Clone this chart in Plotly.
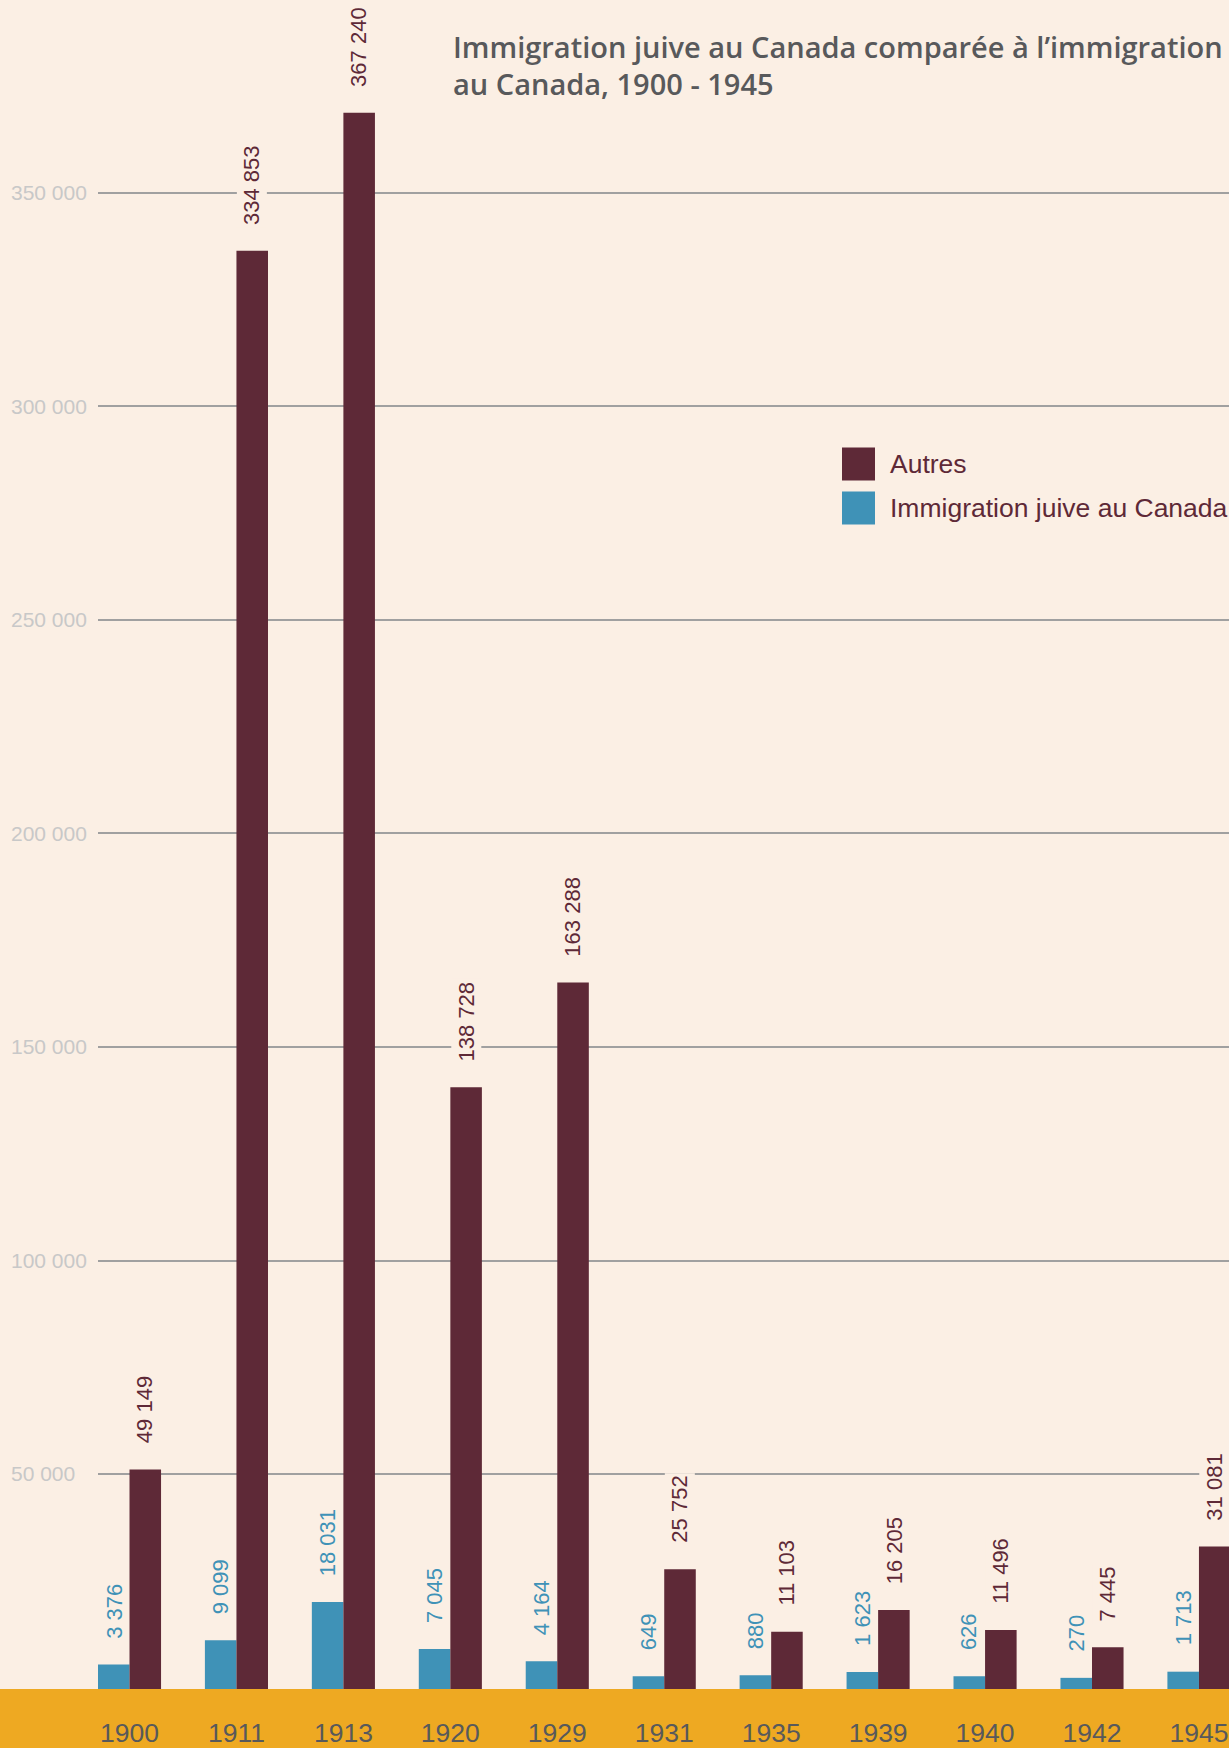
import plotly.graph_objects as go

# ---------------- data ----------------
years = ["1900", "1911", "1913", "1920", "1929", "1931", "1935", "1939", "1940", "1942", "1945"]
juive = [3376, 9099, 18031, 7045, 4164, 649, 880, 1623, 626, 270, 1713]
autres = [49149, 334853, 367240, 138728, 163288, 25752, 11103, 16205, 11496, 7445, 31081]
series_names = ["Autres", "Immigration juive au Canada"]
grid_vals = [50000, 100000, 150000, 200000, 250000, 300000, 350000]
grid_text = ["50 000", "100 000", "150 000", "200 000", "250 000", "300 000", "350 000"]
title_lines = ["Immigration juive au Canada comparée à l’immigration", "au Canada, 1900 - 1945"]

# ---------------- style ----------------
BG = "#FBEFE4"
PURPLE = "#5E2937"
BLUE = "#3F92B7"
ORANGE = "#EEA922"
GRID = "#A0A0A0"
TICK = "#C8C8C8"
DARK = "#58595B"

W, H = 1229, 1748
ML, MR, MT, MB = 7, 0, 0, 59
PW, PH = W - ML - MR, H - MT - MB
X_DOMAIN = [(98 - ML) / PW, 1]
X_RANGE = [-0.2946, 10.281]
BAR_RANGE = [-2345, 393670]     # scale of the bars
GRID_RANGE = [-328, 395130]     # scale of the grid / tick labels
BARGAP = 0.41
HALF = (1 - BARGAP) / 4

SANS = "Liberation Sans, Arial, sans-serif"


def fmt(v):
    return f"{v:,}".replace(",", " ")


def px_x(p):
    return (p - ML) / PW


def px_y(p):
    return (MT + PH - p) / PH


fig = go.Figure()
fig.add_bar(x=years, y=[v - BAR_RANGE[0] for v in juive], base=BAR_RANGE[0],
            name=series_names[1], marker=dict(color=BLUE, line=dict(width=0)),
            customdata=juive, hovertemplate="%{x}: %{customdata}<extra></extra>")
fig.add_bar(x=years, y=[v - BAR_RANGE[0] for v in autres], base=BAR_RANGE[0],
            name=series_names[0], marker=dict(color=PURPLE, line=dict(width=0)),
            customdata=autres, hovertemplate="%{x}: %{customdata}<extra></extra>")
# carrier trace for the grid axis
fig.add_scatter(x=[], y=[], yaxis="y2", showlegend=False, hoverinfo="skip")

ann = []
for i, v in enumerate(juive):
    ann.append(dict(x=i - HALF, y=v, xref="x", yref="y", text=fmt(v), textangle=-90,
                    xanchor="center", yanchor="bottom", yshift=24, showarrow=False,
                    borderpad=1, font=dict(family=SANS, size=22, color=BLUE)))
for i, v in enumerate(autres):
    ann.append(dict(x=i + HALF, y=v, xref="x", yref="y", text=fmt(v), textangle=-90,
                    xanchor="center", yanchor="bottom", yshift=23, showarrow=False,
                    bgcolor=BG, borderpad=2, font=dict(family=SANS, size=22, color=PURPLE)))

# legend (drawn by hand to get the large swatches)
legend_colors = [PURPLE, BLUE]
legend_rows_px = [464, 508]
shapes = [dict(type="rect", xref="paper", yref="paper", x0=-0.1, x1=1.1, y0=-0.2, y1=0,
               fillcolor=ORANGE, line=dict(width=0), layer="below")]
for name, col, yc in zip(series_names, legend_colors, legend_rows_px):
    shapes.append(dict(type="rect", xref="paper", yref="paper",
                       x0=px_x(842), x1=px_x(875), y0=px_y(yc - 16.5), y1=px_y(yc + 16.5),
                       fillcolor=col, line=dict(width=0)))
    ann.append(dict(x=px_x(888), y=px_y(yc), xref="paper", yref="paper", text=name,
                    xanchor="left", yanchor="middle", showarrow=False,
                    font=dict(family=SANS, size=26.5, color=PURPLE)))

fig.update_layout(
    width=W, height=H,
    margin=dict(l=ML, r=MR, t=MT, b=MB, autoexpand=False),
    paper_bgcolor=BG, plot_bgcolor=BG,
    barmode="group", bargap=BARGAP, bargroupgap=0,
    showlegend=False,
    title=dict(text="<br>".join(title_lines), xref="container", yref="container",
               x=453 / W, xanchor="left", y=1 - 57.5 / H, yanchor="top",
               font=dict(family="Open Sans, Noto Sans, sans-serif", size=29, color=DARK, weight=600)),
    xaxis=dict(domain=X_DOMAIN, range=X_RANGE, type="category", showgrid=False, zeroline=False,
               showline=False, ticks="", ticklabelstandoff=25,
               tickfont=dict(family=SANS, size=26.5, color=DARK)),
    yaxis=dict(range=BAR_RANGE, showgrid=False, zeroline=False, showline=False,
               showticklabels=False, ticks=""),
    yaxis2=dict(overlaying="y", anchor="free", position=0, side="left", range=GRID_RANGE,
                tickmode="array", tickvals=grid_vals, ticktext=grid_text,
                showgrid=True, gridcolor=GRID, gridwidth=1.6, zeroline=False, showline=False,
                ticks="", ticklabelposition="inside",
                tickfont=dict(family=SANS, size=21, color=TICK)),
    shapes=shapes,
    annotations=ann,
)

fig.write_html("out.html", config={"displayModeBar": False},
               post_script="document.body.style.margin='0';document.body.style.padding='0';"
                           "document.body.style.overflow='hidden';")
